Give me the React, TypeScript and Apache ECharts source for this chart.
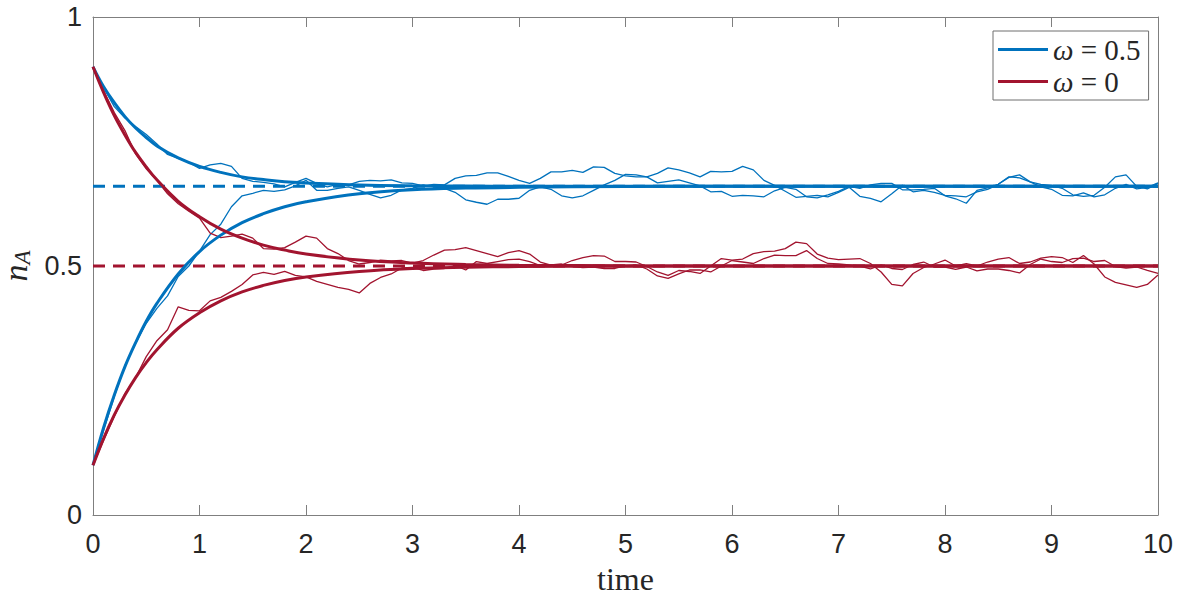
import React, { useEffect, useRef } from "react";
import * as echarts from "echarts";

const BLUE = "#0072BD";
const RED = "#A2142F";

// time grid for the stochastic trajectories (step 0.1)
const TIME: number[] = Array.from({ length: 101 }, (_, i) => Math.round(i) / 10);

const BLUE_NOISY_A = [
  0.900, 0.858, 0.820, 0.797, 0.780, 0.764, 0.745, 0.724, 0.716, 0.708,
  0.696, 0.703, 0.706, 0.700, 0.676, 0.670, 0.668, 0.665, 0.659, 0.668,
  0.676, 0.666, 0.659, 0.664, 0.663, 0.670, 0.672, 0.671, 0.673, 0.667,
  0.666, 0.661, 0.664, 0.663, 0.676, 0.681, 0.682, 0.687, 0.687, 0.680,
  0.672, 0.666, 0.676, 0.689, 0.689, 0.692, 0.688, 0.699, 0.698, 0.686,
  0.681, 0.679, 0.679, 0.686, 0.697, 0.693, 0.687, 0.679, 0.690, 0.689,
  0.690, 0.700, 0.693, 0.672, 0.662, 0.650, 0.638, 0.640, 0.642, 0.639,
  0.648, 0.658, 0.640, 0.636, 0.629, 0.645, 0.662, 0.649, 0.652, 0.648,
  0.642, 0.641, 0.639, 0.649, 0.654, 0.664, 0.678, 0.683, 0.669, 0.659,
  0.654, 0.642, 0.641, 0.647, 0.639, 0.643, 0.656, 0.664, 0.655, 0.658,
  0.667,
];

const BLUE_NOISY_B = [
  0.100, 0.170, 0.238, 0.300, 0.345, 0.385, 0.415, 0.440, 0.479, 0.500,
  0.530, 0.563, 0.584, 0.619, 0.641, 0.646, 0.652, 0.650, 0.653, 0.661,
  0.672, 0.652, 0.652, 0.656, 0.659, 0.652, 0.644, 0.637, 0.642, 0.653,
  0.656, 0.663, 0.659, 0.656, 0.648, 0.633, 0.628, 0.624, 0.634, 0.634,
  0.636, 0.652, 0.659, 0.654, 0.641, 0.637, 0.641, 0.652, 0.663, 0.672,
  0.684, 0.683, 0.679, 0.667, 0.670, 0.673, 0.667, 0.661, 0.649, 0.650,
  0.640, 0.642, 0.641, 0.639, 0.651, 0.658, 0.654, 0.639, 0.637, 0.643,
  0.650, 0.660, 0.656, 0.663, 0.666, 0.666, 0.653, 0.653, 0.654, 0.656,
  0.641, 0.635, 0.626, 0.652, 0.657, 0.664, 0.679, 0.677, 0.669, 0.664,
  0.662, 0.656, 0.643, 0.640, 0.642, 0.658, 0.679, 0.683, 0.660, 0.655,
  0.666,
];

const RED_NOISY_A = [
  0.900, 0.852, 0.808, 0.772, 0.725, 0.695, 0.672, 0.645, 0.625, 0.610,
  0.596, 0.566, 0.557, 0.560, 0.564, 0.556, 0.535, 0.534, 0.537, 0.548,
  0.560, 0.556, 0.535, 0.525, 0.511, 0.504, 0.507, 0.512, 0.510, 0.511,
  0.506, 0.511, 0.522, 0.532, 0.533, 0.537, 0.531, 0.525, 0.519, 0.527,
  0.531, 0.524, 0.508, 0.502, 0.502, 0.511, 0.517, 0.521, 0.520, 0.509,
  0.509, 0.508, 0.499, 0.488, 0.481, 0.491, 0.489, 0.485, 0.500, 0.515,
  0.512, 0.514, 0.525, 0.529, 0.530, 0.535, 0.548, 0.545, 0.524, 0.516,
  0.513, 0.514, 0.515, 0.505, 0.488, 0.463, 0.460, 0.485, 0.497, 0.504,
  0.512, 0.500, 0.505, 0.500, 0.508, 0.514, 0.517, 0.505, 0.508, 0.516,
  0.519, 0.517, 0.507, 0.521, 0.504, 0.478, 0.467, 0.462, 0.457, 0.463,
  0.482,
];

const RED_NOISY_B = [
  0.100, 0.150, 0.198, 0.244, 0.276, 0.318, 0.350, 0.372, 0.418, 0.411,
  0.410, 0.430, 0.437, 0.449, 0.463, 0.482, 0.487, 0.483, 0.489, 0.481,
  0.478, 0.469, 0.463, 0.457, 0.453, 0.446, 0.465, 0.477, 0.484, 0.496,
  0.497, 0.491, 0.494, 0.495, 0.501, 0.492, 0.509, 0.505, 0.509, 0.513,
  0.514, 0.509, 0.501, 0.502, 0.504, 0.499, 0.497, 0.498, 0.495, 0.495,
  0.501, 0.502, 0.494, 0.480, 0.475, 0.484, 0.492, 0.492, 0.488, 0.500,
  0.511, 0.508, 0.505, 0.515, 0.522, 0.521, 0.521, 0.531, 0.515, 0.505,
  0.504, 0.502, 0.500, 0.494, 0.502, 0.495, 0.493, 0.503, 0.508, 0.498,
  0.498, 0.493, 0.498, 0.490, 0.494, 0.494, 0.491, 0.486, 0.503, 0.514,
  0.509, 0.507, 0.515, 0.516, 0.509, 0.511, 0.499, 0.496, 0.498, 0.491,
  0.485,
];

// mean-field (deterministic) curves
const SMOOTH_T = [0, 0.1, 0.2, 0.3, 0.4, 0.5, 0.6, 0.8, 1, 1.2, 1.4, 1.6, 1.8, 2, 2.5, 3, 3.5, 4, 5, 6, 7, 8, 9, 10];
const BLUE_MF_UP = [0.900, 0.860, 0.828, 0.800, 0.777, 0.758, 0.741, 0.717, 0.700, 0.688, 0.679, 0.6735, 0.669, 0.6666, 0.6627, 0.661, 0.6604, 0.6602, 0.660, 0.660, 0.660, 0.660, 0.660, 0.660];
const BLUE_MF_LOW = [0.100, 0.176, 0.241, 0.298, 0.346, 0.389, 0.425, 0.484, 0.529, 0.562, 0.587, 0.605, 0.619, 0.629, 0.645, 0.653, 0.6565, 0.658, 0.6596, 0.660, 0.660, 0.660, 0.660, 0.660];
const RED_MF_UP = [0.900, 0.848, 0.802, 0.763, 0.728, 0.699, 0.673, 0.630, 0.599, 0.574, 0.556, 0.542, 0.532, 0.524, 0.512, 0.506, 0.503, 0.5015, 0.5004, 0.5001, 0.500, 0.500, 0.500, 0.500];
const RED_MF_LOW = [0.100, 0.154, 0.201, 0.241, 0.276, 0.306, 0.332, 0.375, 0.406, 0.430, 0.448, 0.461, 0.471, 0.478, 0.489, 0.495, 0.4975, 0.4988, 0.4997, 0.500, 0.500, 0.500, 0.500, 0.500];

// fixed points (dashed)
const EQ_T = [0, 10];
const EQ_BLUE = [0.66, 0.66];
const EQ_RED = [0.5, 0.5];

const X_MIN = 0, X_MAX = 10, X_STEP = 1;
const Y_MIN = 0, Y_MAX = 1, Y_STEP = 0.5;

const LEG_BLUE = "ω = 0.5";
const LEG_RED = "ω = 0";

const pair = (t: number[], v: number[]) => t.map((x, i) => [x, v[i]]);

const SANS = "Liberation Sans";
const SERIF = "Liberation Serif";
const AXC = "#7f7f7f";
const TXT = "#262626";

export default function App() {
  const ref = useRef<HTMLDivElement>(null);
  useEffect(() => {
    if (!ref.current) return;
    const chart = echarts.init(ref.current, undefined, { renderer: "svg" });

    const noisy = (name: string, data: number[], color: string) => ({
      name, type: "line", data: pair(TIME, data), showSymbol: false, symbol: "none",
      lineStyle: { color, width: 1.3 }, itemStyle: { color }, z: 2, silent: true,
    });
    const mf = (name: string, data: number[], color: string) => ({
      name, type: "line", data: pair(SMOOTH_T, data), smooth: 0.4,
      showSymbol: false, symbol: "none", lineStyle: { color, width: 3 }, itemStyle: { color }, z: 4,
    });
    const eq = (name: string, data: number[], color: string) => ({
      name, type: "line", data: pair(EQ_T, data), showSymbol: false, symbol: "none",
      lineStyle: { color, width: 3, type: [12, 8] }, itemStyle: { color }, z: 3,
    });

    const xCommon = {
      type: "value", min: X_MIN, max: X_MAX, interval: X_STEP,
      axisLine: { show: true, onZero: false, lineStyle: { color: AXC, width: 1 } },
      axisTick: { show: true, inside: true, length: 10, lineStyle: { color: AXC } },
      splitLine: { show: false },
    };
    const yCommon = {
      type: "value", min: Y_MIN, max: Y_MAX, interval: Y_STEP,
      axisLine: { show: true, onZero: false, lineStyle: { color: AXC, width: 1 } },
      axisTick: { show: true, inside: true, length: 10, lineStyle: { color: AXC } },
      splitLine: { show: false },
    };

    chart.setOption({
      animation: false,
      backgroundColor: "#ffffff",
      grid: { left: 93, top: 17, right: 31, bottom: 82, containLabel: false, outerBoundsMode: "none" },
      xAxis: [
        {
          ...xCommon, position: "bottom",
          axisLabel: { color: TXT, fontSize: 27, fontFamily: SANS, margin: 15 },
          name: "time", nameLocation: "middle", nameGap: 50,
          nameTextStyle: { color: TXT, fontSize: 32, lineHeight: 28, fontFamily: SERIF },
        },
        { ...xCommon, position: "top", axisLabel: { show: false } },
      ],
      yAxis: [
        {
          ...yCommon, position: "left",
          axisLabel: {
            color: TXT, fontSize: 27, fontFamily: SANS, margin: 11,
            formatter: (v: number) => String(v),
          },
          name: "{n|n}{a|A}", nameLocation: "middle", nameGap: 56, nameRotate: 90,
          nameTextStyle: {
            color: TXT, fontFamily: SERIF,
            rich: {
              n: {
                fontSize: 34, fontStyle: "italic", fontFamily: SERIF, color: TXT,
                lineHeight: 36, verticalAlign: "middle",
              },
              a: {
                fontSize: 23, fontStyle: "italic", fontFamily: SERIF, color: TXT,
                lineHeight: 24, verticalAlign: "bottom",
              },
            },
          },
        },
        { ...yCommon, position: "right", axisLabel: { show: false } },
      ],
      legend: {
        data: [LEG_BLUE, LEG_RED],
        orient: "vertical", left: 993, top: 31,
        padding: [4, 8, 4, 5], itemGap: 3, itemWidth: 50, itemHeight: 3, icon: "rect",
        backgroundColor: "#ffffff", borderColor: "#6e6e6e", borderWidth: 1, borderRadius: 0,
        formatter: (name: string) => {
          const rest = name.replace("ω", "");
          return "{w|ω}{r|" + rest + "}";
        },
        textStyle: {
          color: TXT, fontFamily: SERIF, fontSize: 29,
          rich: {
            w: { fontStyle: "italic", fontFamily: SERIF, fontSize: 29, color: TXT },
            r: { fontFamily: SERIF, fontSize: 29, color: TXT },
          },
        },
        selectedMode: false,
      },
      series: [
        noisy("bnA", BLUE_NOISY_A, BLUE),
        noisy("bnB", BLUE_NOISY_B, BLUE),
        noisy("rnA", RED_NOISY_A, RED),
        noisy("rnB", RED_NOISY_B, RED),
        eq("eqB", EQ_BLUE, BLUE),
        eq("eqR", EQ_RED, RED),
        mf(LEG_BLUE, BLUE_MF_UP, BLUE),
        mf(LEG_BLUE, BLUE_MF_LOW, BLUE),
        mf(LEG_RED, RED_MF_UP, RED),
        mf(LEG_RED, RED_MF_LOW, RED),
      ],
    });
    return () => chart.dispose();
  }, []);
  return (
    <div
      ref={ref}
      style={{ position: "absolute", left: 0, top: 0, width: 1189, height: 597, background: "#fff" }}
    />
  );
}
